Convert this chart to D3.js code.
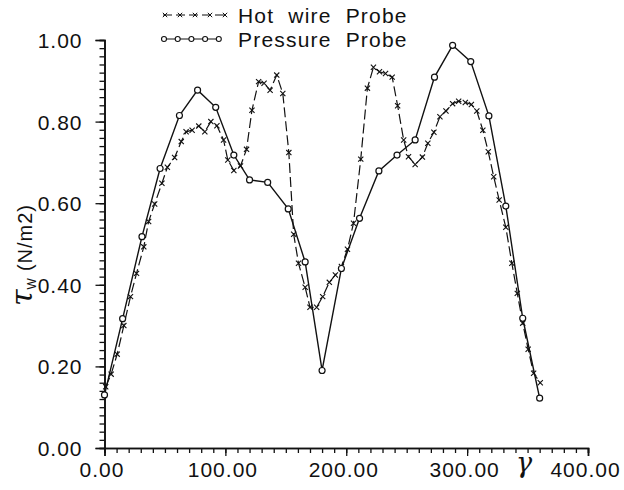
<!DOCTYPE html>
<html>
<head>
<meta charset="utf-8">
<script src="https://cdn.jsdelivr.net/npm/d3@7"></script>
<style>
  html, body { margin: 0; padding: 0; background: #fff; }
  svg { display: block; }
  text { fill: #111; }
</style>
</head>
<body>
<svg id="chart" width="624" height="490"></svg>
<script>
// Wall shear stress around the surface: hot wire vs. pressure probe
const pressureAngle = [0, 15, 31, 46, 62, 77, 92, 107, 120, 135, 152, 166, 180,
  196, 211, 227, 242, 257, 273, 288, 303, 318, 332, 346, 360];
const pressureTau = [0.130, 0.317, 0.518, 0.685, 0.815, 0.877, 0.835, 0.718, 0.657,
  0.651, 0.586, 0.456, 0.190, 0.440, 0.563, 0.679, 0.718, 0.755, 0.909, 0.987,
  0.947, 0.814, 0.593, 0.318, 0.122];

const hotwireAngle = [1, 5.5, 10.5, 16, 21.5, 26.5, 32.5, 36.5, 41.5, 47.5, 52, 58,
  63.5, 67.5, 72.5, 78, 83, 88, 93, 98.5, 102, 107, 112.5, 117.5, 122, 127.5, 132,
  137, 142.5, 147.5, 152.5, 156.5, 160.5, 166, 170, 175.5, 180.5, 186, 191, 196,
  201, 206, 212, 217.5, 222.5, 227.5, 232.5, 238, 242.5, 247.5, 251.5, 257, 263,
  267.5, 272.5, 277.5, 282.5, 288, 293, 298.5, 303.5, 308, 313, 317.5, 322,
  326.5, 332, 337, 341.5, 346, 350.5, 355, 360.5];
const hotwireTau = [0.150, 0.181, 0.230, 0.300, 0.371, 0.428, 0.493, 0.555, 0.598,
  0.649, 0.688, 0.712, 0.751, 0.775, 0.779, 0.789, 0.775, 0.800, 0.790, 0.755,
  0.706, 0.680, 0.691, 0.732, 0.828, 0.898, 0.894, 0.877, 0.914, 0.869, 0.724,
  0.524, 0.453, 0.394, 0.345, 0.345, 0.371, 0.406, 0.424, 0.445, 0.487, 0.551,
  0.708, 0.882, 0.933, 0.922, 0.918, 0.909, 0.839, 0.755, 0.714, 0.695, 0.713,
  0.747, 0.774, 0.812, 0.826, 0.844, 0.850, 0.847, 0.842, 0.826, 0.779, 0.726,
  0.665, 0.608, 0.541, 0.453, 0.379, 0.306, 0.242, 0.183, 0.160];

const xTickValues = [0, 100, 200, 300, 400];
const yTickValues = [0, 0.2, 0.4, 0.6, 0.8, 1.0];
const legendLabels = ["Hot wire Probe", "Pressure Probe"];

const svg = d3.select("#chart");
const labelFont = "'Liberation Sans', Arial, sans-serif";

const x = d3.scaleLinear().domain([0, 400]).range([104.5, 588]);
const y = d3.scaleLinear().domain([0, 1]).range([448, 40]);

// Axes: minor ticks first, then major ticks with labels
const xMinor = d3.axisBottom(x).tickValues(d3.range(0, 401, 10)).tickSize(5).tickFormat("");
const yMinor = d3.axisLeft(y).tickValues(d3.range(0, 1.0001, 0.02)).tickSize(5).tickFormat("");
const xMajor = d3.axisBottom(x).tickValues(xTickValues).tickSize(8).tickFormat(d3.format(".2f")).tickPadding(6);
const yMajor = d3.axisLeft(y).tickValues(yTickValues).tickSize(9).tickFormat(d3.format(".2f")).tickPadding(13);

function styleAxis(g) {
  g.select(".domain").attr("stroke", "#111").attr("stroke-width", 1.6);
  g.selectAll(".tick line").attr("stroke", "#111").attr("stroke-width", 1.3);
  g.selectAll(".tick text")
    .style("font-family", labelFont)
    .style("font-size", "21px")
    .style("letter-spacing", "1px")
    .attr("fill", "#111");
}

svg.append("g").attr("transform", `translate(0,${y(0)})`).call(xMinor).call(styleAxis);
svg.append("g").attr("transform", `translate(${x(0)},0)`).call(yMinor).call(styleAxis);
const gx = svg.append("g").attr("transform", `translate(0,${y(0)})`).call(xMajor).call(styleAxis);
gx.selectAll(".tick text").attr("dx", "-3px");
const gy = svg.append("g").attr("transform", `translate(${x(0)},0)`).call(yMajor).call(styleAxis);
gy.selectAll(".tick text").attr("dy", "0.36em");

// Axis titles
svg.append("text")
  .attr("x", 524).attr("y", 472)
  .attr("text-anchor", "middle")
  .style("font-family", "'DejaVu Serif', serif")
  .style("font-style", "italic")
  .style("font-size", "27px")
  .text("γ");

const yTitle = svg.append("text")
  .attr("transform", "translate(32,255) rotate(-90)")
  .attr("text-anchor", "middle")
  .style("font-family", labelFont);
yTitle.append("tspan")
  .style("font-family", "'DejaVu Serif', serif")
  .style("font-style", "italic")
  .style("font-size", "30px")
  .text("τ");
yTitle.append("tspan")
  .attr("dy", 4)
  .style("font-size", "12px")
  .text("W");
yTitle.append("tspan")
  .attr("dy", -4)
  .attr("dx", 7)
  .style("font-size", "20px")
  .style("letter-spacing", "1px")
  .text("(N/m2)");

// Series
const hotwire = hotwireAngle.map((a, i) => [a, hotwireTau[i]]);
const pressure = pressureAngle.map((a, i) => [a, pressureTau[i]]);
const line = d3.line().x(d => x(d[0])).y(d => y(d[1]));

svg.append("path")
  .datum(hotwire)
  .attr("d", line)
  .attr("fill", "none")
  .attr("stroke", "#111")
  .attr("stroke-width", 1.2)
  .attr("stroke-dasharray", "10,4");

svg.append("path")
  .datum(pressure)
  .attr("d", line)
  .attr("fill", "none")
  .attr("stroke", "#111")
  .attr("stroke-width", 1.4);

function crossPath(cx, cy, s) {
  return `M${cx - s},${cy - s}L${cx + s},${cy + s}M${cx - s},${cy + s}L${cx + s},${cy - s}`;
}

svg.append("g").selectAll("path")
  .data(hotwire)
  .join("path")
  .attr("d", d => crossPath(x(d[0]), y(d[1]), 2.6))
  .attr("stroke", "#111")
  .attr("stroke-width", 1.1)
  .attr("fill", "none");

svg.append("g").selectAll("circle")
  .data(pressure)
  .join("circle")
  .attr("cx", d => x(d[0]))
  .attr("cy", d => y(d[1]))
  .attr("r", 3)
  .attr("fill", "#fff")
  .attr("stroke", "#111")
  .attr("stroke-width", 1.2);

// Legend
const legend = svg.append("g");
const legendX0 = 163, legendX1 = 226;
const rowY = [15, 39];

legend.append("line")
  .attr("x1", legendX0).attr("x2", legendX1)
  .attr("y1", rowY[0]).attr("y2", rowY[0])
  .attr("stroke", "#111").attr("stroke-width", 1.1)
  .attr("stroke-dasharray", "9,4");
legend.selectAll(".hwm")
  .data(d3.range(5))
  .join("path")
  .attr("d", i => crossPath(legendX0 + 2 + i * 15, rowY[0], 2.2))
  .attr("stroke", "#111").attr("stroke-width", 1).attr("fill", "none");

legend.append("line")
  .attr("x1", legendX0).attr("x2", legendX1 - 8)
  .attr("y1", rowY[1]).attr("y2", rowY[1])
  .attr("stroke", "#111").attr("stroke-width", 1.2);
legend.selectAll(".ppm")
  .data(d3.range(5))
  .join("circle")
  .attr("cx", i => legendX0 + 1 + i * 13.7)
  .attr("cy", rowY[1])
  .attr("r", 2.5)
  .attr("fill", "#fff").attr("stroke", "#111").attr("stroke-width", 1.1);

legend.selectAll("text")
  .data(legendLabels)
  .join("text")
  .attr("x", 238)
  .attr("y", (d, i) => rowY[i] + 8)
  .style("font-family", labelFont)
  .style("font-size", "21px")
  .style("letter-spacing", "1.2px")
  .style("word-spacing", "7px")
  .text(d => d);
</script>
</body>
</html>
